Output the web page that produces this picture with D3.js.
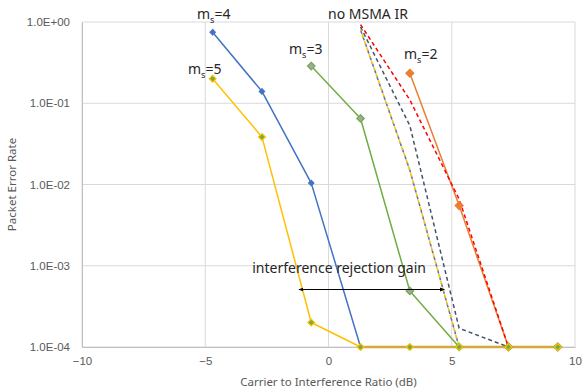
<!DOCTYPE html>
<html>
<head>
<meta charset="utf-8">
<script src="https://cdn.jsdelivr.net/npm/d3@7"></script>
<style>
  html, body { margin: 0; padding: 0; background: #fff; }
  svg { display: block; font-family: "Noto Sans", "Open Sans", sans-serif; }
</style>
</head>
<body>
<div id="chart"></div>
<script>
// C/I points (dB)
const cir = [-4.7, -2.7, -0.7, 1.3, 3.3, 5.3, 7.3, 9.3];

// packet error rate, MSMA with interference rejection
const perMs5 = [0.2, 0.0385, 2.0e-4, 1e-4, 1e-4, 1e-4, 1e-4, 1e-4];
const perMs4 = [0.75, 0.14, 0.0104, 1e-4, 1e-4, 1e-4, 1e-4, 1e-4];
const perMs3 = [null, null, 0.287, 0.065, 4.9e-4, 1e-4, 1e-4, 1e-4];
const perMs2 = [null, null, null, null, 0.234, 0.0055, 1e-4, 1e-4];

// no MSMA IR
const noIrBlue = [null, null, null, 0.8, 0.015, 1e-4, 1e-4, 1e-4];
const noIrGold = [null, null, null, 0.8, 0.015, 1e-4, 1e-4, 1e-4];
const noIrSlate = [null, null, null, 0.87, 0.053, 1.7e-4, 1e-4, 1e-4];
const noIrRed = [null, null, null, 0.93, 0.11, 0.0066, 1e-4, 1e-4];

const xTicks = [-10, -5, 0, 5, 10];
const yTicks = [1, 0.1, 0.01, 0.001, 0.0001];

// interference rejection gain arrow (dB span, PER level)
const gainSpan = [-1.2, 4.7];
const gainLevel = 5.1e-4;
const gainLabelAt = 0.43;

const width = 582, height = 390;
const margin = { top: 22, right: 7, bottom: 43, left: 82 };

const svg = d3.select('#chart').append('svg')
              .attr('width', width)
              .attr('height', height);

const x = d3.scaleLinear()
            .domain([-10, 10])
            .range([margin.left, width - margin.right]);
const y = d3.scaleLog()
            .domain([1e-4, 1])
            .range([height - margin.bottom, margin.top]);

// grid
svg.append('g')
   .selectAll('line')
   .data(yTicks)
   .join('line')
   .attr('x1', margin.left).attr('x2', width - margin.right)
   .attr('y1', d => y(d)).attr('y2', d => y(d))
   .attr('stroke', '#d9d9d9').attr('stroke-width', 1);
svg.append('g')
   .selectAll('line')
   .data(xTicks)
   .join('line')
   .attr('x1', d => x(d)).attr('x2', d => x(d))
   .attr('y1', margin.top).attr('y2', height - margin.bottom)
   .attr('stroke', '#d9d9d9').attr('stroke-width', 1);

// axes
const xAxis = svg.append('g')
                 .attr('transform', `translate(0, ${height - margin.bottom})`)
                 .call(d3.axisBottom(x).tickValues(xTicks).tickSize(0).tickPadding(10));
xAxis.select('.domain').attr('stroke', '#bfbfbf');
xAxis.selectAll('text').attr('fill', '#595959').style('font-size', '11.5px');

const yAxis = svg.append('g')
                 .attr('transform', `translate(${margin.left}, 0)`)
                 .call(d3.axisLeft(y).tickValues(yTicks).tickSize(0).tickPadding(12)
                         .tickFormat(d => d.toExponential(1).replace('e-', 'E-').replace('e+', 'E+').replace(/E([+-])(\d)$/, 'E$10$2')));
yAxis.select('.domain').attr('stroke', '#bfbfbf');
yAxis.selectAll('text').attr('fill', '#595959').style('font-size', '11.5px');

svg.append('text')
   .attr('x', x(0)).attr('y', 386)
   .attr('text-anchor', 'middle')
   .attr('fill', '#595959')
   .style('font-size', '11.5px')
   .text('Carrier to Interference Ratio (dB)');

svg.append('text')
   .attr('transform', `translate(16, ${(margin.top + height - margin.bottom) / 2}) rotate(-90)`)
   .attr('text-anchor', 'middle')
   .attr('fill', '#595959')
   .style('font-size', '11.5px')
   .text('Packet Error Rate');

const line = d3.line()
               .defined(d => d[1] != null)
               .x(d => x(d[0]))
               .y(d => y(d[1]));

const pairs = vals => cir.map((c, i) => [c, vals[i]]);

// solid series
const solid = [
	{ vals: perMs2, color: '#ED7D31', mFill: '#ED7D31', mStroke: '#ED7D31', size: 40, w: 1.5 },
	{ vals: perMs3, color: '#70AD47', mFill: '#A5A5A5', mStroke: '#70AD47', size: 36, w: 1.5 },
	{ vals: perMs4, color: '#4472C4', mFill: '#4472C4', mStroke: '#4472C4', size: 18, w: 1.5 },
	{ vals: perMs5, color: '#FFC000', mFill: '#70AD47', mStroke: '#FFC000', size: 30, w: 1.5 }
];

// dashed series
const dashed = [
	{ vals: noIrRed, color: '#FF0000', offset: 0 },
	{ vals: noIrSlate, color: '#44546A', offset: 0 },
	{ vals: noIrBlue, color: '#4472C4', offset: 0 },
	{ vals: noIrGold, color: '#FFC000', offset: 2.5 }
];

solid.forEach(s => {
	svg.append('path')
	   .datum(pairs(s.vals))
	   .attr('d', line)
	   .attr('fill', 'none')
	   .attr('stroke', s.color)
	   .attr('stroke-width', s.w)
	   .attr('stroke-linejoin', 'round');
});

dashed.forEach(s => {
	svg.append('path')
	   .datum(pairs(s.vals))
	   .attr('d', line)
	   .attr('fill', 'none')
	   .attr('stroke', s.color)
	   .attr('stroke-width', 1.5)
	   .attr('stroke-dasharray', '4,3')
	   .attr('stroke-dashoffset', s.offset);
});

// thicker overlap along the floor, as in the original
svg.append('path')
   .datum(pairs(perMs5).filter(d => d[1] === 1e-4))
   .attr('d', line)
   .attr('fill', 'none')
   .attr('stroke', '#D4A83A')
   .attr('stroke-width', 2.5);

solid.forEach(s => {
	svg.append('g')
	   .selectAll('path')
	   .data(pairs(s.vals).filter(d => d[1] != null))
	   .join('path')
	   .attr('transform', d => `translate(${x(d[0])}, ${y(d[1])})`)
	   .attr('d', d3.symbol(d3.symbolDiamond2, s.size))
	   .attr('fill', s.mFill)
	   .attr('stroke', s.mStroke)
	   .attr('stroke-width', 1.2);
});

// gain arrow
const defs = svg.append('defs');
defs.append('marker')
    .attr('id', 'head')
    .attr('viewBox', '0 0 10 10')
    .attr('refX', 9).attr('refY', 5)
    .attr('markerWidth', 5).attr('markerHeight', 5)
    .attr('orient', 'auto-start-reverse')
    .append('path')
    .attr('d', 'M0,1L10,5L0,9Z')
    .attr('fill', '#000');

svg.append('line')
   .attr('x1', x(gainSpan[0])).attr('x2', x(gainSpan[1]))
   .attr('y1', y(gainLevel)).attr('y2', y(gainLevel))
   .attr('stroke', '#000')
   .attr('stroke-width', 1)
   .attr('marker-start', 'url(#head)')
   .attr('marker-end', 'url(#head)');

svg.append('text')
   .attr('x', x(gainLabelAt))
   .attr('y', y(gainLevel) - 17)
   .attr('text-anchor', 'middle')
   .attr('fill', '#262626')
   .style('font-size', '14px')
   .text('interference rejection gain');

// series labels
const labels = [
	{ sub: '4', x: 197, y: 19 },
	{ sub: '5', x: 188, y: 74 },
	{ sub: '3', x: 289, y: 54 },
	{ sub: '2', x: 404, y: 59 }
];
labels.forEach(l => {
	const t = svg.append('text')
	             .attr('x', l.x).attr('y', l.y)
	             .attr('fill', '#262626')
	             .style('font-size', '14px');
	t.append('tspan').text('m');
	t.append('tspan').attr('dy', 4).style('font-size', '9px').text('s');
	t.append('tspan').attr('dy', -4).text('=' + l.sub);
});

svg.append('text')
   .attr('x', 328).attr('y', 19)
   .attr('fill', '#262626')
   .style('font-size', '14px')
   .text('no MSMA IR');
</script>
</body>
</html>
